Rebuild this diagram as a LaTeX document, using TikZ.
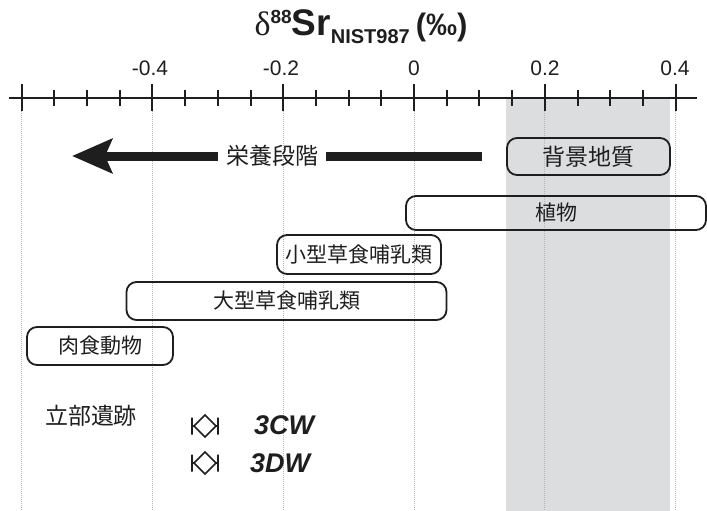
\documentclass[tikz,border=0pt]{standalone}
\usepackage{fontspec}
\setmainfont{Liberation Sans}
\newfontfamily\cjk{Noto Sans CJK JP}
\newfontfamily\serifd{Liberation Serif}
\usetikzlibrary{arrows.meta}
\definecolor{band}{HTML}{DCDDDF}
\definecolor{gridc}{HTML}{B4B4B4}
\definecolor{ink}{HTML}{1E1E1E}
\tikzset{
  box/.style={draw=ink, line width=1.8pt, rounded corners=10pt, inner sep=0pt,
    font=\cjk\fontsize{21}{21}\selectfont, text=ink},
  lab/.style={inner sep=0pt, font=\cjk\fontsize{23}{23}\selectfont, text=ink},
  ticklab/.style={inner sep=0pt, font=\fontsize{21}{21}\selectfont, text=ink},
  site/.style={inner sep=0pt, font=\bfseries\itshape\fontsize{27}{27}\selectfont, text=ink},
  axisline/.style={line width=2pt, ink},
  gridline/.style={gridc, line width=1pt, densely dotted},
  shaft/.style={line width=9pt, ink},
  errdia/.pic={\draw[ink, line width=1.7pt]
      (-13,-8.5) -- (-13,8.5) (-13,0) -- (-11,0)
      (13,-8.5) -- (13,8.5) (13,0) -- (11,0)
      (-11,0) -- (0,-11) -- (11,0) -- (0,11) -- cycle;}
}
\begin{document}
\begin{tikzpicture}[x=1pt, y=-1pt]
\useasboundingbox (0,0) rectangle (707,511);
% shaded band
\fill[band] (506,99) rectangle (670,511);
% dotted grid lines
\foreach \i in {0,...,5} {
  \draw[gridline] (21.6+130.8*\i,111) -- (21.6+130.8*\i,511);
}
% axis
\coordinate (axl) at (9,98);
\coordinate (axr) at (697,98);
\draw[axisline] (axl) -- (axr);
\foreach \i in {0,...,20} {
  \pgfmathtruncatemacro{\m}{mod(\i,4)}
  \ifnum\m=0
    \draw[axisline] (21.6+32.7*\i,84) -- (21.6+32.7*\i,111);
  \else
    \draw[axisline] (21.6+32.7*\i,90) -- (21.6+32.7*\i,106);
  \fi
}
\node[ticklab] (t1) at (150,68) {-0.4};
\node[ticklab] (t2) at (281,68) {-0.2};
\node[ticklab] (t3) at (414,68) {0};
\node[ticklab] (t4) at (545,68) {0.2};
\node[ticklab] (t5) at (675,68) {0.4};
% title
\node[inner sep=0pt, text=ink, anchor=base] (title) at (361,36)
  {{\serifd\fontsize{34}{34}\selectfont δ}\raisebox{12pt}{\bfseries\fontsize{19}{19}\selectfont 88}{\bfseries\fontsize{37}{37}\selectfont Sr}\raisebox{-8pt}{\bfseries\fontsize{20}{20}\selectfont NIST987}\hspace{6pt}{\bfseries\fontsize{31}{31}\selectfont (‰)}};
% trophic arrow
\node[lab, inner xsep=8pt] (troph) at (272,156) {栄養段階};
\coordinate (ts) at (482,156);
\coordinate (tip) at (72,156);
\draw[shaft] (ts) -- (troph.east);
\draw[shaft, -{Stealth[length=40pt, width=34pt, inset=7pt]}] (troph.west) -- (tip);
% boxes
\node[box, minimum width=163pt, minimum height=37pt, font=\cjk\fontsize{23}{23}\selectfont] (bg) at (588.5,156.5) {背景地質};
\node[box, minimum width=300pt, minimum height=34pt] (plant) at (556,213) {植物};
\node[box, minimum width=164pt, minimum height=39pt] (small) at (359,254.5) {小型草食哺乳類};
\node[box, minimum width=320pt, minimum height=38pt] (large) at (286.5,301) {大型草食哺乳類};
\node[box, minimum width=146pt, minimum height=38pt] (carn) at (100,346) {肉食動物};
% site
\node[lab] (site) at (91,416) {立部遺跡};
\pic at (205,426) {errdia};
\pic at (205,463) {errdia};
\node[site] (cw) at (284,425) {3CW};
\node[site] (dw) at (280,463) {3DW};
\end{tikzpicture}
\end{document}
